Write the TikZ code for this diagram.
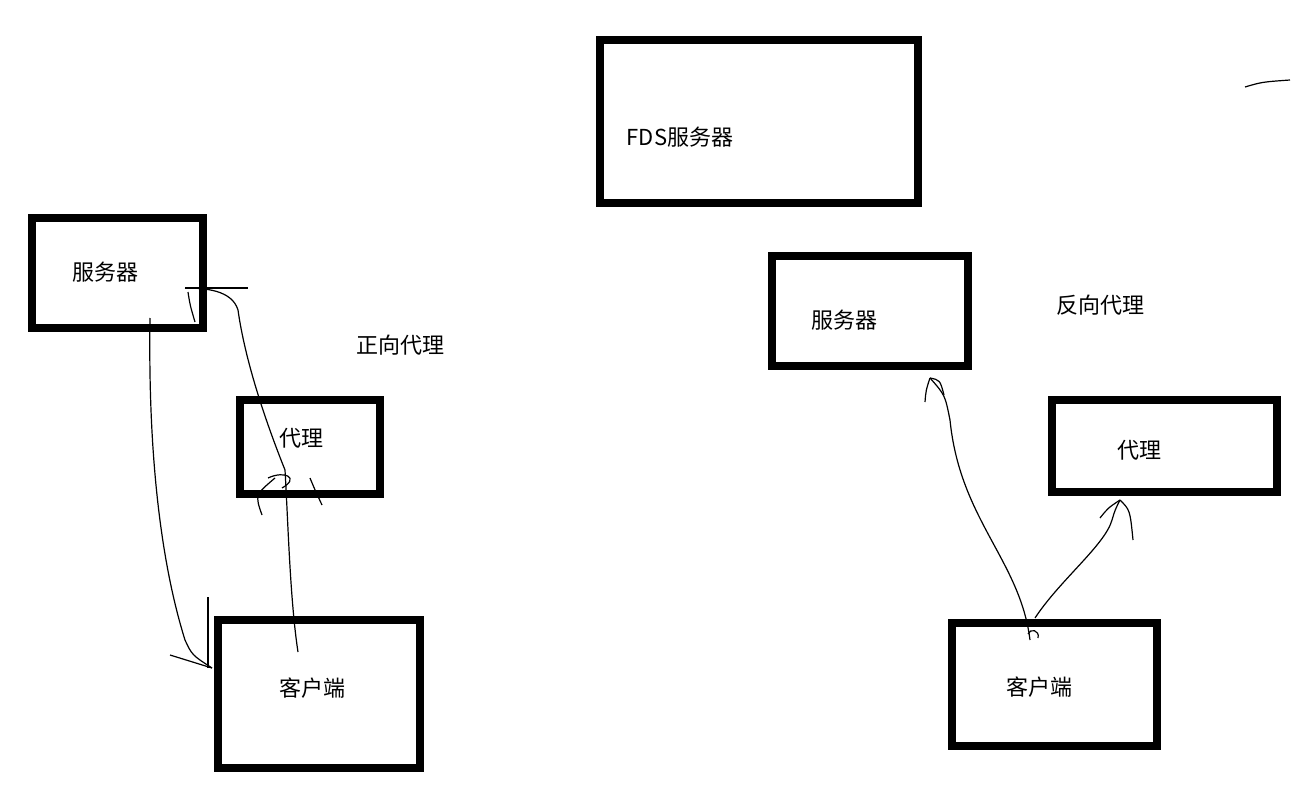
\documentclass[tikz,border=0pt]{standalone}
\usepackage{fontspec}
\setmainfont{Noto Sans CJK SC}
\begin{document}
\begin{tikzpicture}[x=0.75pt,y=-0.75pt,
  box/.style={draw=black,line width=6pt,inner sep=0pt},
  lbl/.style={font=\fontsize{16.5}{18}\selectfont,inner sep=0pt},
  wire/.style={draw=black,line width=0.9pt}]
\useasboundingbox[fill=white] (0,0) rectangle (1300,788);
% boxes
\draw[box] (600,40) rectangle (918,203);
\node[lbl] (fdsL) at (680,137) {FDS服务器};
\draw[box] (32,218) rectangle (203,328);
\node[lbl] (srvL) at (105,272) {服务器};
\draw[box] (240,400) rectangle (380,494);
\node[lbl] (pxL) at (301,438) {代理};
\draw[box] (218,620) rectangle (420,768);
\node[lbl] (clL) at (312,688) {客户端};
\node[lbl] (fwd) at (400,345) {正向代理};
\draw[box] (772,256) rectangle (968,366);
\node[lbl] (srvR) at (844,320) {服务器};
\node[lbl] (rev) at (1100,305) {反向代理};
\draw[box] (1052,400) rectangle (1277,492);
\node[lbl] (pxR) at (1139,450) {代理};
\draw[box] (952,623) rectangle (1157,746);
\node[lbl] (clR) at (1039,687) {客户端};
% stray stroke
\coordinate (s1) at (1245,87); \coordinate (s2) at (1290,80);
\draw[wire] (s1) .. controls (1262,82) .. (s2);
% left: server -> client
\coordinate (a1) at (150,318); \coordinate (a2) at (212,668);
\draw[wire] (a1) .. controls (148,450) and (160,560) .. (185,640) .. controls (192,655) .. (a2);
\draw[wire] (170,655) -- (a2);
\draw[wire] (208,597) -- (208,668);
% left: client -> proxy -> server
\coordinate (b1) at (298,652); \coordinate (b2) at (185,288);
\draw[wire] (b1) .. controls (290,600) and (288,520) .. (285,470)
  .. controls (265,420) and (245,360) .. (238,310) .. controls (232,290) and (205,288) .. (b2);
\draw[wire] (b2) -- (248,288);
\draw[wire] (188,292) .. controls (190,305) .. (195,322);
\draw[wire] (262,515) .. controls (255,495) .. (275,478);
\draw[wire] (268,478) .. controls (285,470) and (300,478) .. (282,488);
\draw[wire] (322,505) .. controls (315,490) .. (310,478);
% right: client -> server
\coordinate (c1) at (1030,640); \coordinate (c2) at (930,378);
\draw[wire] (c1) .. controls (1020,560) and (960,520) .. (950,420) .. controls (945,395) .. (c2);
\draw[wire] (c2) .. controls (926,390) .. (925,402);
\draw[wire] (c2) .. controls (940,380) .. (944,395);
\draw[wire] (1028,634) .. controls (1030,628) and (1040,630) .. (1038,638);
% right: client -> proxy
\coordinate (d1) at (1035,618); \coordinate (d2) at (1120,500);
\draw[wire] (d1) .. controls (1060,580) and (1105,545) .. (1112,520) .. controls (1115,510) .. (d2);
\draw[wire] (d2) .. controls (1108,508) .. (1100,518);
\draw[wire] (d2) .. controls (1130,510) .. (1133,540);
\end{tikzpicture}
\end{document}
